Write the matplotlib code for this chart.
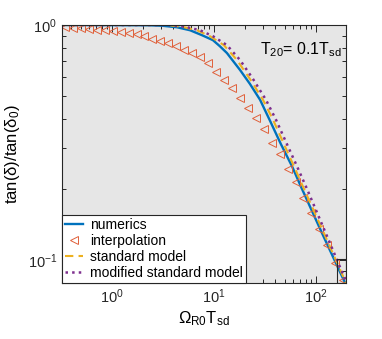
import matplotlib
matplotlib.use('Agg')
import matplotlib.pyplot as plt
from matplotlib.patches import Rectangle
from matplotlib.ticker import LogLocator, NullFormatter

plt.rcParams['font.family'] = ['Liberation Sans', 'DejaVu Sans']
plt.rcParams['mathtext.fontset'] = 'custom'
plt.rcParams['mathtext.rm'] = 'Liberation Sans'
plt.rcParams['mathtext.it'] = 'Liberation Sans:italic'
plt.rcParams['mathtext.bf'] = 'Liberation Sans:bold'

# ---- data ----
numerics_x = [0.3236, 2.36, 3.16, 4.34, 5.82, 7.63, 9.77, 11.4, 13.4, 18.0, 22.5,
              28.3, 35.4, 45.4, 58.2, 72.9, 115, 184, 200]
numerics_y = [1.0, 0.997, 0.992, 0.978, 0.950, 0.905, 0.862, 0.813, 0.760, 0.644,
              0.562, 0.481, 0.392, 0.311, 0.251, 0.201, 0.130, 0.0837, 0.0775]

interp_x = [0.346, 0.414, 0.496, 0.593, 0.710, 0.849, 1.016, 1.216, 1.455, 1.741,
            2.083, 2.492, 2.982, 3.568, 4.269, 5.109, 6.113, 7.314, 8.752, 10.47,
            12.53, 14.99, 17.94, 21.47, 25.69, 30.74, 36.78, 44.01, 52.66, 63.02,
            75.40, 90.22, 107.9, 129.2, 154.6, 185.0]
interp_y = [0.981, 0.975, 0.975, 0.965, 0.956, 0.950, 0.943, 0.934, 0.925, 0.914,
            0.896, 0.876, 0.856, 0.835, 0.813, 0.782, 0.758, 0.729, 0.688, 0.633,
            0.584, 0.539, 0.489, 0.444, 0.403, 0.360, 0.316, 0.282, 0.244, 0.214,
            0.183, 0.158, 0.136, 0.116, 0.097, 0.0822]

standard_x = [0.3236, 3.46, 4.86, 6.81, 9.14, 12.5, 16.8, 22.5, 30.2, 37.9, 48.6,
              60.8, 76.3, 120, 192, 200]
standard_y = [1.0, 1.0, 0.983, 0.950, 0.896, 0.821, 0.710, 0.590, 0.481, 0.396,
              0.311, 0.251, 0.201, 0.130, 0.0821, 0.0790]

modified_x = [0.3236, 3.70, 5.20, 7.29, 9.77, 13.4, 18.0, 24.1, 32.3, 40.5, 52.0,
              65.1, 81.6, 125, 197, 200]
modified_y = [1.0, 1.0, 0.983, 0.950, 0.896, 0.821, 0.710, 0.590, 0.481, 0.396,
              0.311, 0.251, 0.201, 0.130, 0.0813, 0.0801]

labels = ['numerics', 'interpolation', 'standard model', 'modified standard model']

# ---- figure ----
fig = plt.figure(figsize=(3.82, 3.39), dpi=100)
ax = fig.add_axes([62/382, 1-283/339, 284/382, 258/339])
ax.set_facecolor('#e6e6e6')

ax.plot(numerics_x, numerics_y, '-', color='#0072BD', lw=1.7, label=labels[0])
ax.plot(interp_x, interp_y, '<', mfc='none', mec='#E0603A', ms=5.3, mew=0.7,
        ls='none', label=labels[1])
ax.plot(standard_x, standard_y, '--', color='#EDB120', lw=1.5, dashes=(4, 2.5),
        label=labels[2])
ax.plot(modified_x, modified_y, ':', color='#7E2F8E', lw=1.8, label=labels[3])

ax.set_xscale('log')
ax.set_yscale('log')
ax.set_xlim(0.3236, 197)
ax.set_ylim(0.08, 1.0)

ax.xaxis.set_major_locator(LogLocator(base=10, numticks=10))
ax.xaxis.set_minor_locator(LogLocator(base=10, subs=range(2, 10), numticks=10))
ax.yaxis.set_minor_locator(LogLocator(base=10, subs=range(2, 10), numticks=10))
ax.xaxis.set_minor_formatter(NullFormatter())
ax.yaxis.set_minor_formatter(NullFormatter())

ax.tick_params(which='both', direction='in', top=True, right=True,
               labelsize=10.5, colors='#262626', width=0.7)
ax.tick_params(which='major', length=5)
ax.tick_params(which='minor', length=3)
for s in ax.spines.values():
    s.set_color('#262626')
    s.set_linewidth(0.8)

ax.set_xlabel(r'$\mathregular{\Omega_{R0}T_{sd}}$', fontsize=12, labelpad=2)
ax.set_ylabel(r'$\mathregular{tan(\delta)/tan(\delta_0)}$', fontsize=12, labelpad=4)

ax.text(0.985, 0.905, r'$\mathregular{T_{20}}$= 0.1$\mathregular{T_{sd}}$',
        transform=ax.transAxes, ha='right', va='center', fontsize=11.5)

ax.add_patch(Rectangle((0.968, 0.0), 0.032, 0.093, transform=ax.transAxes,
                       fill=False, ec='#262626', lw=0.8, zorder=5))

leg = ax.legend(loc='lower left', bbox_to_anchor=(0, 0), borderaxespad=0,
                fancybox=False, framealpha=1, edgecolor='#262626',
                fontsize=10, handlelength=1.3, handletextpad=0.5,
                labelspacing=0.15, borderpad=0.22)
leg.get_frame().set_linewidth(0.8)

fig.savefig('out.png', dpi=100)
